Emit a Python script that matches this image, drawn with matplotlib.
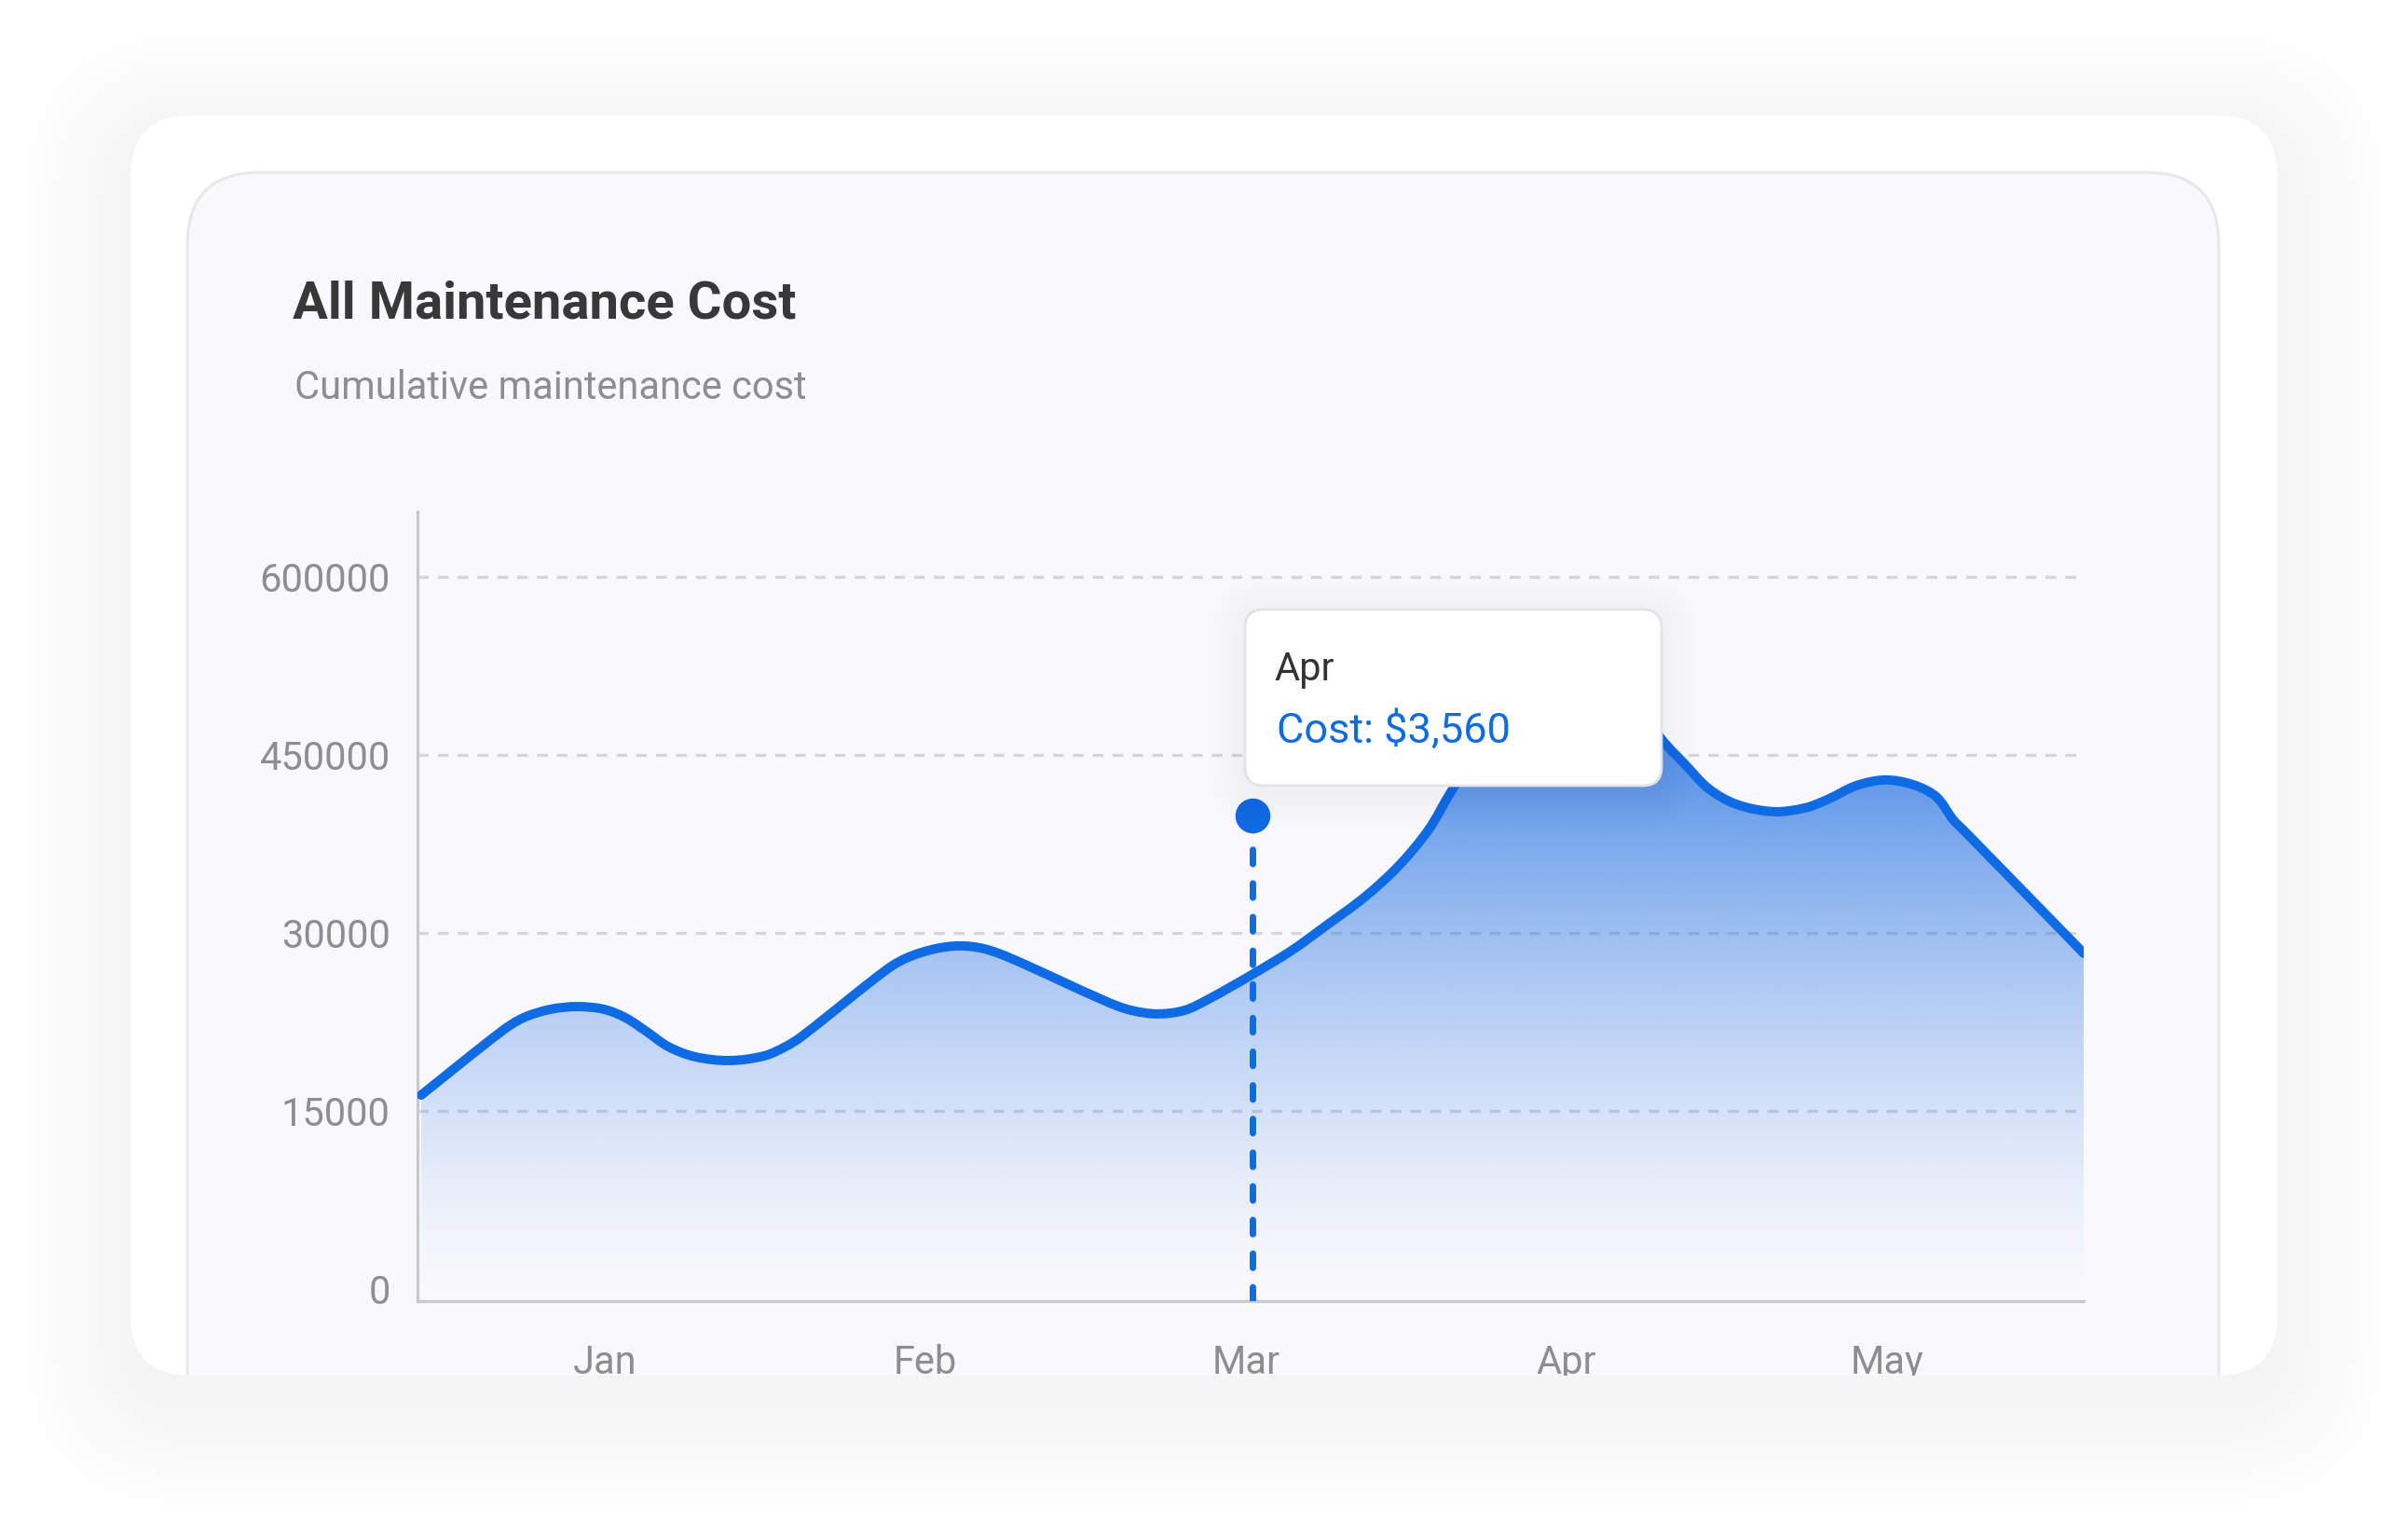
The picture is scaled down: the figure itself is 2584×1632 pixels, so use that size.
import numpy as np
import matplotlib
matplotlib.use("Agg")
import matplotlib.pyplot as plt
from matplotlib.patches import FancyBboxPatch, Rectangle, PathPatch
from matplotlib.path import Path

plt.rcParams['font.family'] = ['Roboto', 'DejaVu Sans']

# ---- data ----
months = ['Jan', 'Feb', 'Mar', 'Apr', 'May']
month_pos = [0, 1, 2, 3, 4]
ytick_pos = [0, 1, 2, 3, 4]
ytick_labels = ['0', '15000', '30000', '450000', '600000']

# cost curve, x in months (Jan = 0), y in grid steps
cost_x = [-0.573, -0.320, -0.253, -0.169, -0.087, -0.003, 0.064, 0.131, 0.198,
          0.282, 0.390, 0.497, 0.564, 0.615, 0.881, 0.948, 1.032, 1.108, 1.183,
          1.265, 1.567, 1.643, 1.724, 1.809, 1.884, 2.018, 2.143, 2.248, 2.373,
          2.480, 2.571, 2.640, 2.736, 2.824, 2.925, 3.027, 3.129, 3.231, 3.309,
          3.370, 3.443, 3.530, 3.646, 3.745, 3.815, 3.905, 3.995, 4.083, 4.155,
          4.208, 4.243, 4.615]
cost_y = [1.089, 1.450, 1.524, 1.571, 1.586, 1.571, 1.524, 1.445, 1.361,
          1.304, 1.283, 1.309, 1.361, 1.419, 1.796, 1.864, 1.911, 1.927, 1.911,
          1.859, 1.613, 1.565, 1.545, 1.565, 1.628, 1.764, 1.901, 2.037, 2.204,
          2.382, 2.581, 2.791, 3.052, 3.236, 3.356, 3.393, 3.356, 3.236, 3.063,
          2.948, 2.812, 2.723, 2.681, 2.702, 2.749, 2.827, 2.859, 2.832, 2.764,
          2.634, 2.571, 1.885]

hover_x = 2.02
hover_y = 2.66
tip_title = 'Apr'
tip_value = 'Cost: $3,560'

title = 'All Maintenance Cost'
subtitle = 'Cumulative maintenance cost'

BLUE = '#0f6be3'
GRAY_TXT = '#8e8e8e'

W, H = 2584, 1632
fig = plt.figure(figsize=(W / 100, H / 100), dpi=100)
fig.patch.set_facecolor('white')


def rounded(x, y, w, h, r, **kw):
    return FancyBboxPatch((x, y), w, h, boxstyle=f"round,pad=0,rounding_size={r}", **kw)


def shadow(ax, x, y, w, h, r, layers, spread, dy, alpha, color, clip=None):
    for k in range(layers):
        p = spread * (k + 1) / layers
        s = rounded(x - p, y - p + dy, w + 2 * p, h + 2 * p, r + p,
                    fc=color, ec='none', alpha=alpha)
        ax.add_patch(s)
        if clip is not None:
            s.set_clip_path(clip)


def smooth_path(xs, ys, sx, sy):
    # cubic curve through the points, tangents from chord lengths in pixels
    P = np.column_stack([xs, ys]).astype(float)
    S = P * [sx, sy]
    n = len(P)
    d = np.hypot(*np.diff(S, axis=0).T)
    tang = np.zeros_like(P)
    tang[0] = (P[1] - P[0]) / d[0]
    tang[-1] = (P[-1] - P[-2]) / d[-1]
    for i in range(1, n - 1):
        tang[i] = (P[i + 1] - P[i - 1]) / (d[i - 1] + d[i])
    verts = [P[0]]
    codes = [Path.MOVETO]
    for i in range(n - 1):
        verts += [P[i] + tang[i] * d[i] / 3, P[i + 1] - tang[i + 1] * d[i] / 3, P[i + 1]]
        codes += [Path.CURVE4] * 3
    return verts, codes


# ---- background card ----
bg = fig.add_axes([0, 0, 1, 1], zorder=0)
bg.set_xlim(0, W)
bg.set_ylim(H, 0)
bg.axis('off')

card = (140, 124, 2304, 1352, 66)
shadow(bg, *card, layers=10, spread=120, dy=26, alpha=0.0045, color='black')
outer = rounded(*card[:4], card[4], fc='white', ec='none')
bg.add_patch(outer)
inner = rounded(201, 185, 2180, 1500, 78, fc='#f9f9fd', ec='#e8e8eb', lw=2.2)
bg.add_patch(inner)
inner.set_clip_path(outer)

bg.text(314, 342, title, fontsize=40.5, fontweight='bold', color='#383838', va='baseline')
bg.text(316, 428, subtitle, fontsize=30, color=GRAY_TXT, va='baseline')

# ---- chart ----
x0px, x1px, y0px, y1px = 448, 2236, 549, 1396
ax = fig.add_axes([x0px / W, 1 - y1px / H, (x1px - x0px) / W, (y1px - y0px) / H], zorder=1)
ax.patch.set_alpha(0)
xlim = (-0.5845, 4.6147)
ylim = (-0.068, 4.366)

for v in ytick_pos[1:]:
    ax.axhline(v, color='#d6d6da', lw=2.4, dashes=(3.45, 2.94), zorder=1)

px_x = (x1px - x0px) / (xlim[1] - xlim[0])
px_y = (y1px - y0px) / (ylim[1] - ylim[0])
verts, codes = smooth_path(cost_x, cost_y, px_x, px_y)

area_verts = verts + [(cost_x[-1], ylim[0]), (cost_x[0], ylim[0]), verts[0]]
area_codes = codes + [Path.LINETO, Path.LINETO, Path.CLOSEPOLY]
area = PathPatch(Path(area_verts, area_codes), fc='none', ec='none')
ax.add_patch(area)
n = 400
t = np.linspace(0, 1, n)
grad = np.zeros((n, 1, 4))
grad[..., :3] = matplotlib.colors.to_rgb('#1a6be0')
grad[..., 3] = (0.85 * t ** 1.4)[:, None]
im = ax.imshow(grad, extent=[cost_x[0], cost_x[-1], ylim[0], max(cost_y)],
               origin='lower', aspect='auto', interpolation='bilinear', zorder=2)
im.set_clip_path(area)

ax.add_patch(PathPatch(Path(verts, codes), fc='none', ec=BLUE, lw=7.2,
                       capstyle='round', joinstyle='round', zorder=4))

ax.plot([hover_x, hover_x], [ylim[0], hover_y], color=BLUE, lw=5,
        dashes=(2.2, 3.0), dash_capstyle='round', zorder=5)
ax.plot([hover_x], [hover_y], 'o', ms=27, color=BLUE, mec='none', zorder=6)

ax.set_xlim(*xlim)
ax.set_ylim(*ylim)
ax.set_xticks(month_pos, months)
ax.set_yticks(ytick_pos, ytick_labels)
ax.tick_params(axis='y', length=0, pad=21, labelsize=30, labelcolor=GRAY_TXT)
ax.tick_params(axis='x', length=0, pad=33, labelsize=30, labelcolor=GRAY_TXT)
for s in ['top', 'right']:
    ax.spines[s].set_visible(False)
for s in ['left', 'bottom']:
    ax.spines[s].set_color('#c9c9cd')
    ax.spines[s].set_linewidth(2.3)

# ---- tooltip + bottom cut of the card ----
top = fig.add_axes([0, 0, 1, 1], zorder=2)
top.set_xlim(0, W)
top.set_ylim(H, 0)
top.axis('off')
top.patch.set_alpha(0)

tip = (1336, 654, 447, 189, 20)
shadow(top, *tip, layers=8, spread=40, dy=6, alpha=0.005, color='#5a64d0')
top.add_patch(rounded(*tip[:4], tip[4], fc='white', ec='#e3e3e6', lw=2))
top.text(1367, 730, tip_title, fontsize=30, color='#333333', va='baseline')
top.text(1370, 797, tip_value, fontsize=32.5, color=BLUE, va='baseline')

cover = Rectangle((0, 1476), W, H - 1476, fc='white', ec='none')
top.add_patch(cover)
shadow(top, *card, layers=10, spread=120, dy=26, alpha=0.0045, color='black', clip=cover)

fig.savefig('out.png', dpi=100)
